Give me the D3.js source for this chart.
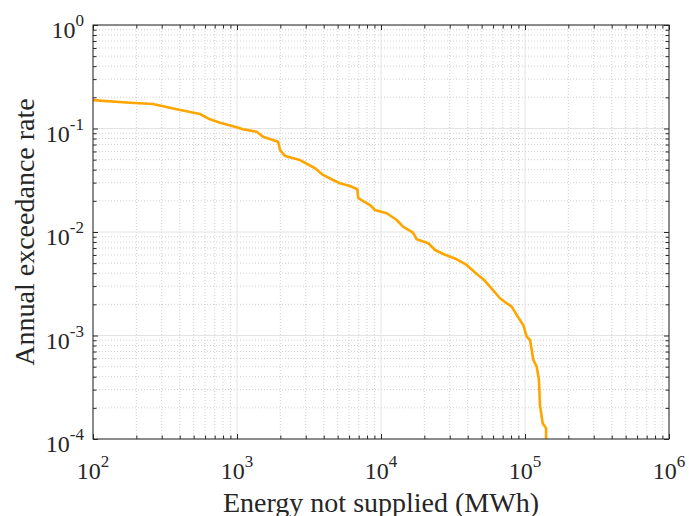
<html>
<script src='https://d3js.org/d3.v7.min.js'></script>
<style>
body {margin:0; background:#fff;}
text {font-family: 'Liberation Serif', 'Times New Roman', serif; fill:#262626;}
</style>
<body onload='init()'>
<svg width=689 height=516></svg>
<script>
// energy not supplied (MWh) and annual exceedance rate
var ens = [100, 181, 261, 381, 553, 649, 762, 968, 1101, 1371, 1517, 1928, 1991, 2155, 2738,
  3483, 3957, 4642, 5190, 6095, 6843, 6953, 8387, 9085, 10960, 12860, 14220, 16680, 17700,
  21300, 23710, 27080, 33550, 39360, 46190, 51290, 57120, 66990, 74600, 80830, 87500, 97300,
  102800, 108400, 114300, 120600, 125000, 127000, 132700, 140000, 140000];
var rate = [0.188, 0.1775, 0.1725, 0.1533, 0.138, 0.1226, 0.1138, 0.104, 0.0982, 0.0931, 0.0833,
  0.0746, 0.0619, 0.0542, 0.0496, 0.0413, 0.0356, 0.0318, 0.0296, 0.0278, 0.0259, 0.0212,
  0.01823, 0.01632, 0.01517, 0.01306, 0.01126, 0.00985, 0.0085, 0.00778, 0.0067, 0.00613,
  0.00545, 0.0048, 0.00393, 0.0035, 0.00296, 0.00229, 0.00205, 0.0019, 0.00158, 0.00126,
  0.000973, 0.000905, 0.00058, 0.0005, 0.000372, 0.000213, 0.000142, 0.000127, 0.0001];
var xExp = [2, 3, 4, 5, 6];
var yExp = [-4, -3, -2, -1, 0];

function init() {
  var left = 93, right = 669, top = 25, bottom = 439;
  var svg = d3.select("svg");

  var x = d3.scaleLog().domain([1e2, 1e6]).range([left, right]);
  var y = d3.scaleLog().domain([1e-4, 1]).range([bottom, top]);

  var xMinor = [], yMinor = [];
  xExp.slice(0, -1).forEach(function(e) { for (var k = 2; k < 10; k++) xMinor.push(k * Math.pow(10, e)); });
  yExp.slice(0, -1).forEach(function(e) { for (var k = 2; k < 10; k++) yMinor.push(k * Math.pow(10, e)); });
  var xMajor = xExp.map(function(e) { return Math.pow(10, e); });
  var yMajor = yExp.map(function(e) { return Math.pow(10, e); });

  var grid = svg.append("g");
  // minor grid, dotted
  grid.selectAll(".xm").data(xMinor).enter().append("line")
    .attr("x1", d => x(d)).attr("x2", d => x(d)).attr("y1", top).attr("y2", bottom)
    .attr("stroke", "#d0d0d0").attr("stroke-width", 1).attr("stroke-dasharray", "1,2");
  grid.selectAll(".ym").data(yMinor).enter().append("line")
    .attr("y1", d => y(d)).attr("y2", d => y(d)).attr("x1", left).attr("x2", right)
    .attr("stroke", "#d0d0d0").attr("stroke-width", 1).attr("stroke-dasharray", "1,2");
  // major grid, solid
  grid.selectAll(".xM").data(xMajor).enter().append("line")
    .attr("x1", d => x(d)).attr("x2", d => x(d)).attr("y1", top).attr("y2", bottom)
    .attr("stroke", "#e3e3e3").attr("stroke-width", 1);
  grid.selectAll(".yM").data(yMajor).enter().append("line")
    .attr("y1", d => y(d)).attr("y2", d => y(d)).attr("x1", left).attr("x2", right)
    .attr("stroke", "#e3e3e3").attr("stroke-width", 1);

  var line = d3.line().x(d => x(d[0])).y(d => y(d[1]));
  svg.append("path").datum(ens.map((d, i) => [d, rate[i]]))
    .attr("d", line).attr("fill", "none").attr("stroke", "#FFA500")
    .attr("stroke-width", 2.6).attr("stroke-linejoin", "round");

  // axes with inside ticks on all sides
  var tk = 5, tkm = 3.5;
  svg.append("g").attr("transform", "translate(0," + bottom + ")")
    .call(d3.axisTop(x).tickValues(xMajor.concat(xMinor)).tickSize(0).tickFormat(""))
    .call(g => g.selectAll(".tick line").attr("y2", d => -(xMajor.indexOf(d) >= 0 ? tk : tkm)).attr("stroke", "#262626"))
    .call(g => g.select(".domain").remove());
  svg.append("g").attr("transform", "translate(0," + top + ")")
    .call(d3.axisBottom(x).tickValues(xMajor.concat(xMinor)).tickSize(0).tickFormat(""))
    .call(g => g.selectAll(".tick line").attr("y2", d => (xMajor.indexOf(d) >= 0 ? tk : tkm)).attr("stroke", "#262626"))
    .call(g => g.select(".domain").remove());
  svg.append("g").attr("transform", "translate(" + left + ",0)")
    .call(d3.axisRight(y).tickValues(yMajor.concat(yMinor)).tickSize(0).tickFormat(""))
    .call(g => g.selectAll(".tick line").attr("x2", d => (yMajor.indexOf(d) >= 0 ? tk : tkm)).attr("stroke", "#262626"))
    .call(g => g.select(".domain").remove());
  svg.append("g").attr("transform", "translate(" + right + ",0)")
    .call(d3.axisLeft(y).tickValues(yMajor.concat(yMinor)).tickSize(0).tickFormat(""))
    .call(g => g.selectAll(".tick line").attr("x2", d => -(yMajor.indexOf(d) >= 0 ? tk : tkm)).attr("stroke", "#262626"))
    .call(g => g.select(".domain").remove());

  svg.append("rect").attr("x", left).attr("y", top).attr("width", right - left).attr("height", bottom - top)
    .attr("fill", "none").attr("stroke", "#262626").attr("stroke-width", 1);

  // tick labels
  svg.selectAll(".xl").data(xExp).enter().append("text")
    .attr("x", d => x(Math.pow(10, d))).attr("y", bottom + 40)
    .attr("text-anchor", "middle")
    .each(function(d) {
      var t = d3.select(this);
      t.append("tspan").attr("font-size", 24).text("10");
      t.append("tspan").attr("font-size", 17).attr("dy", -12).text(d);
    });
  svg.selectAll(".yl").data(yExp).enter().append("text")
    .attr("x", left - 9).attr("y", d => y(Math.pow(10, d)) + 13)
    .attr("text-anchor", "end")
    .each(function(d) {
      var t = d3.select(this);
      t.append("tspan").attr("font-size", 24).text("10");
      t.append("tspan").attr("font-size", 17).attr("dy", -12).text(d < 0 ? "-" + (-d) : d);
    });

  svg.append("text").attr("x", (left + right) / 2).attr("y", 512)
    .attr("text-anchor", "middle").attr("font-size", 28).text("Energy not supplied (MWh)");
  svg.append("text").attr("transform", "translate(34," + (top + bottom) / 2 + ") rotate(-90)")
    .attr("text-anchor", "middle").attr("font-size", 28).text("Annual exceedance rate");
}
</script>
</body>
</html>
